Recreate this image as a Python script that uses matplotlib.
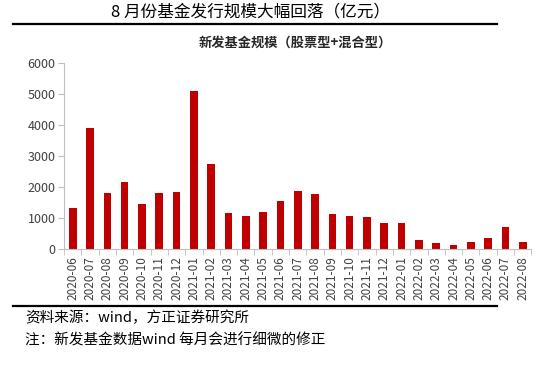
import numpy as np
import matplotlib
matplotlib.use('Agg')
import matplotlib.pyplot as plt
from matplotlib.lines import Line2D

plt.rcParams['font.family'] = ['Noto Sans CJK SC', 'DejaVu Sans']

# datos
meses = ['2020-06', '2020-07', '2020-08', '2020-09', '2020-10', '2020-11', '2020-12',
         '2021-01', '2021-02', '2021-03', '2021-04', '2021-05', '2021-06', '2021-07',
         '2021-08', '2021-09', '2021-10', '2021-11', '2021-12', '2022-01', '2022-02',
         '2022-03', '2022-04', '2022-05', '2022-06', '2022-07', '2022-08']
escala = [1332, 3893, 1817, 2161, 1462, 1806, 1849,
          5107, 2742, 1172, 1054, 1204, 1559, 1882,
          1785, 1118, 1054, 1045, 828, 828, 280,
          183, 118, 215, 344, 699, 215]
yticks = [0, 1000, 2000, 3000, 4000, 5000, 6000]

fig = plt.figure(figsize=(5.57, 3.8), dpi=100)
ax = fig.add_axes([0.115, 0.345, 0.839, 0.489])

x = np.arange(len(meses))
ax.bar(x, escala, width=0.44, color='#C00000')

ax.set_xlim(-0.5, len(meses) - 0.5)
ax.set_ylim(0, 6000)
ax.set_yticks(yticks)
ax.set_yticklabels([str(v) for v in yticks], fontsize=9, color='#404040')
ax.set_xticks(x)
ax.set_xticklabels(meses, rotation=90, fontsize=8.5, color='#404040')
ax.set_xticks(np.arange(-0.5, len(meses)), minor=True)
ax.tick_params(axis='x', which='major', length=0, pad=5)
ax.tick_params(axis='x', which='minor', length=4, color='#BFBFBF', direction='out')
ax.tick_params(axis='y', length=4, color='#BFBFBF', pad=2)

for s in ['top', 'right']:
    ax.spines[s].set_visible(False)
ax.spines['left'].set_color('#BFBFBF')
ax.spines['bottom'].set_color('#BFBFBF')

# titulos y lineas
fig.text(0.45, 0.968, '8 月份基金发行规模大幅回落（亿元）', ha='center', va='center',
         fontsize=12, color='black')
fig.add_artist(Line2D([0.023, 0.893], [0.936, 0.936], color='black', lw=1.6))
fig.text(0.53, 0.887, '新发基金规模（股票型+混合型）', ha='center', va='center',
         fontsize=9.5, fontweight='bold', color='#262626')
fig.add_artist(Line2D([0.023, 0.893], [0.195, 0.195], color='black', lw=1.6))

fig.text(0.045, 0.163, '资料来源：wind，方正证券研究所', ha='left', va='center',
         fontsize=10.5, style='italic', color='black')
fig.text(0.045, 0.105, '注：新发基金数据wind 每月会进行细微的修正', ha='left', va='center',
         fontsize=10.5, style='italic', color='black')

fig.savefig('out.png', dpi=100)
plt.close(fig)
